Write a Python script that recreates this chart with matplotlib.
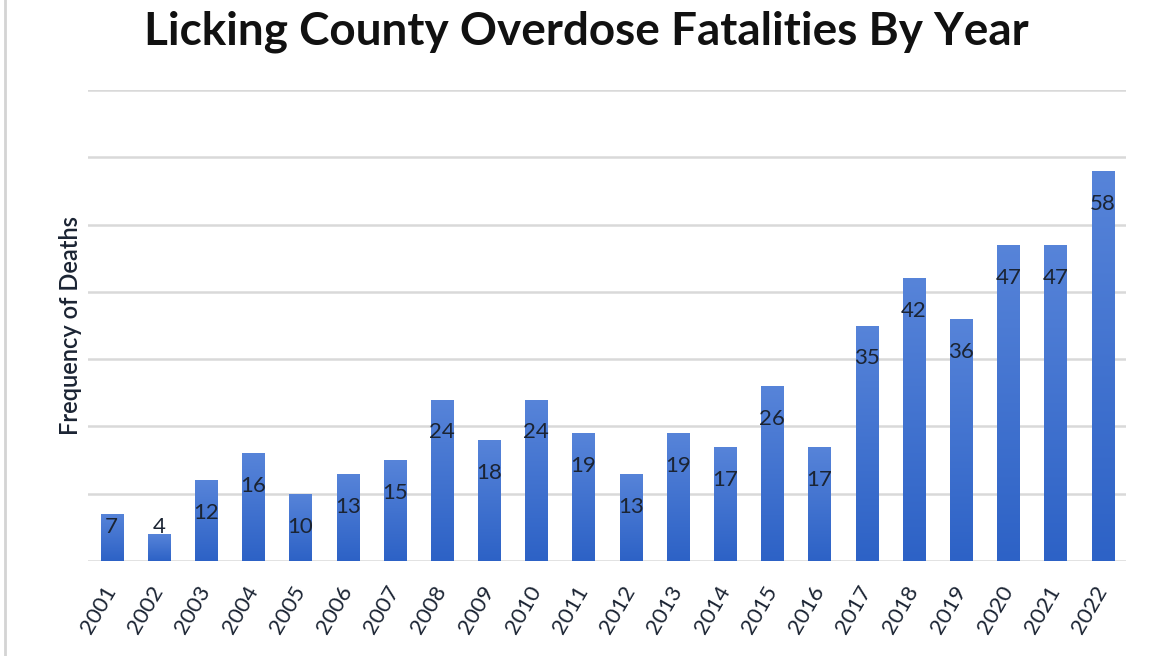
import numpy as np
import matplotlib.pyplot as plt
from matplotlib.colors import LinearSegmentedColormap
from matplotlib.lines import Line2D

years = [str(y) for y in range(2001, 2023)]
deaths = [7, 4, 12, 16, 10, 13, 15, 24, 18, 24, 19, 13, 19, 17, 26, 17, 35, 42, 36, 47, 47, 58]

FONT = 'Lato'
GRID = '#d9d9d9'
TEXT = '#1b2433'

fig = plt.figure(figsize=(11.51, 6.56), dpi=100)
fig.patch.set_facecolor('white')
ax = fig.add_axes([0.0765, 0.1448, 0.902, 0.718])

x = np.arange(len(years))
bars = ax.bar(x, deaths, width=0.47, color='#3a6ecf', zorder=2)

# vertical blue gradient inside each bar
cmap = LinearSegmentedColormap.from_list('bar', ['#2d62c6', '#5784d9'])
grad = np.linspace(0, 1, 256).reshape(-1, 1)
for b in bars:
    x0, y0 = b.get_x(), b.get_y()
    im = ax.imshow(grad, extent=[x0, x0 + b.get_width(), y0, y0 + b.get_height()],
                   origin='lower', aspect='auto', cmap=cmap, zorder=2.1)
    im.set_clip_path(b)

# value labels just inside the bar ends
for xi, v in zip(x, deaths):
    ax.text(xi, max(v - 4.9, 5.0), str(v), ha='center', va='center',
            fontsize=16, color=TEXT, family=FONT, zorder=3)

ax.set_xlim(-0.5, len(years) - 0.5)
ax.set_ylim(0, 70)
ax.set_yticks(np.arange(0, 71, 10))
ax.set_yticklabels([])
ax.tick_params(axis='y', length=0)
ax.tick_params(axis='x', length=0, pad=19)
ax.grid(axis='y', color=GRID, lw=1.8, zorder=0)
ax.set_axisbelow(True)
for s in ax.spines.values():
    s.set_visible(False)

ax.set_xticks(x)
ax.set_xticklabels(years, rotation=60, ha='right', va='center',
                   rotation_mode='anchor', fontsize=16, color=TEXT, family=FONT)

ax.set_ylabel('Frequency of Deaths', fontsize=17, color=TEXT, family=FONT,
              fontweight='semibold', labelpad=1)

fig.text(0.509, 0.951, 'Licking County Overdose Fatalities By Year', ha='center',
         va='center', fontsize=33, fontweight='bold', color='#111111', family=FONT)

# thin frame edge at the left
fig.add_artist(Line2D([0.004, 0.004], [0, 1], transform=fig.transFigure,
                      color='#d4d4d4', lw=2))

fig.savefig('out.png', dpi=100, facecolor='white')
